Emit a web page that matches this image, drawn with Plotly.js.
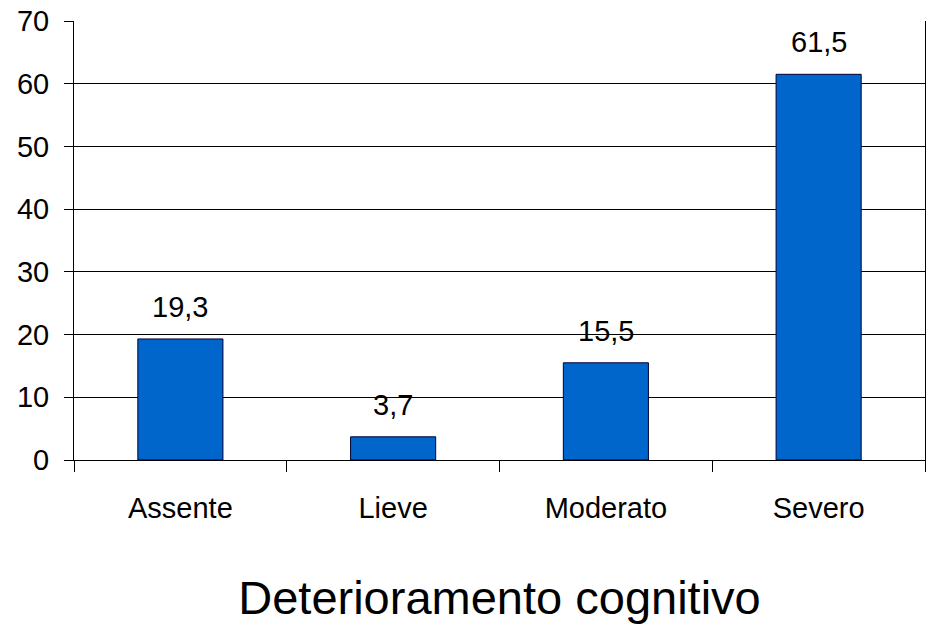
<!DOCTYPE html>
<html>
<head>
<meta charset="utf-8">
<script src="https://cdn.plot.ly/plotly-3.0.1.min.js"></script>
<style>html,body{margin:0;padding:0;background:#fff;}#chart{width:928px;height:630px;}</style>
</head>
<body>
<div id="chart"></div>
<script>
const categories = ["Assente", "Lieve", "Moderato", "Severo"];
const values = [19.3, 3.7, 15.5, 61.5];
const valueLabels = ["19,3", "3,7", "15,5", "61,5"];
const yTicks = [0, 10, 20, 30, 40, 50, 60, 70];
const xTitle = "Deterioramento cognitivo";

const narrow = "'Liberation Sans Narrow', 'Arial Narrow', 'Liberation Sans', Arial, sans-serif";
const regular = "'Liberation Sans', Arial, sans-serif";

const trace = {
  type: "bar",
  x: categories,
  y: values,
  marker: { color: "#0066CC", line: { color: "#000033", width: 1 } },
  hoverinfo: "skip"
};

const annotations = categories.map((c, i) => ({
  x: c, y: values[i], xref: "x", yref: "y",
  text: valueLabels[i], showarrow: false,
  yanchor: "middle", yshift: 32,
  font: { family: narrow, size: 29, color: "#000" }
}));

const layout = {
  width: 928, height: 630,
  margin: { l: 74, r: 3, t: 21, b: 170, pad: 0 },
  paper_bgcolor: "#fff", plot_bgcolor: "#fff",
  showlegend: false,
  bargap: 0.6,
  font: { family: narrow, color: "#000" },
  xaxis: {
    type: "category",
    showline: true, linecolor: "#000", linewidth: 1,
    ticks: "outside", tickson: "boundaries", ticklen: 11, tickcolor: "#000", tickwidth: 1,
    tickfont: { family: narrow, size: 29, color: "#000" },
    ticklabelstandoff: 22,
    showgrid: false, zeroline: false,
    automargin: false,
    title: { text: xTitle, font: { family: regular, size: 47, color: "#000" }, standoff: 58 }
  },
  yaxis: {
    range: [0, 70], tickvals: yTicks, ticktext: yTicks.map(String),
    showline: true, linecolor: "#000", linewidth: 1, mirror: true,
    ticks: "outside", ticklen: 9, tickcolor: "#000", tickwidth: 1,
    tickfont: { family: narrow, size: 29, color: "#000" },
    ticklabelstandoff: 9,
    showgrid: true, gridcolor: "#000", gridwidth: 1,
    zeroline: false, automargin: false
  },
  annotations: annotations
};

Plotly.newPlot("chart", [trace], layout, { staticPlot: true, displayModeBar: false });
</script>
</body>
</html>
